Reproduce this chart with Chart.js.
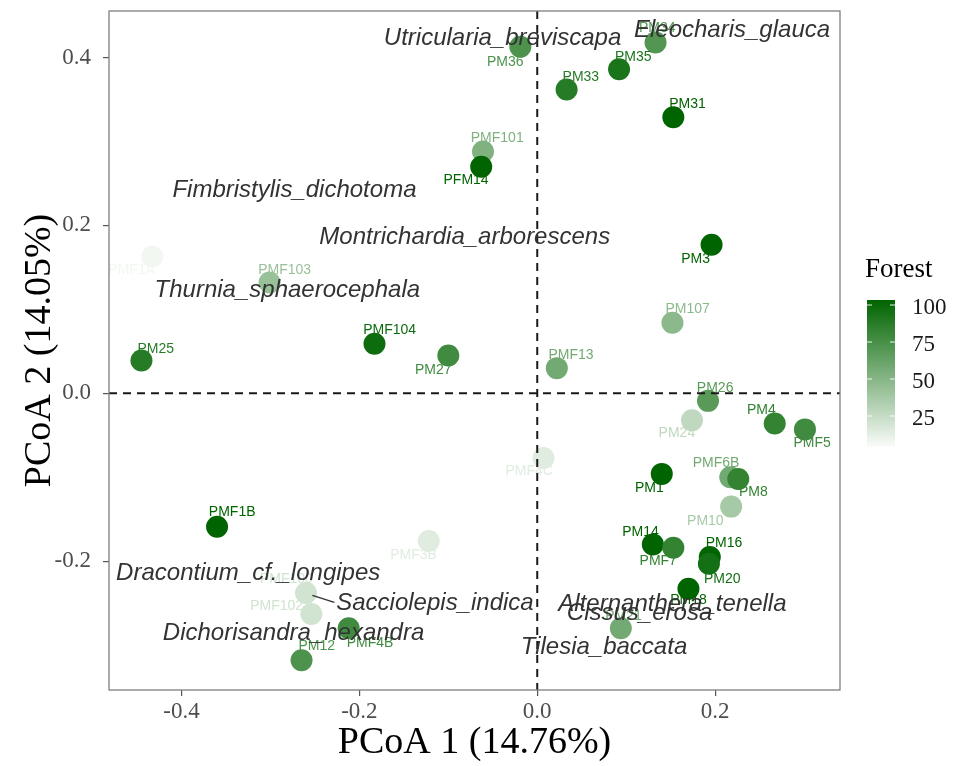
<!DOCTYPE html>
<html>
<head>
<meta charset="utf-8">
<script src="https://cdn.jsdelivr.net/npm/chart.js@4.4.1/dist/chart.umd.min.js"></script>
<style>
  body { margin: 0; background: #fff; }
  #wrap { width: 957px; height: 766px; }
</style>
</head>
<body>
<div id="wrap"><canvas id="myChart" width="957" height="766"></canvas></div>
<script>
// sample scores on the first two axes, plus forest cover for the colour
const sampleNames = ['PM36','PM34','PM35','PM33','PM31','PMF101','PFM14','PM3','PMF1A','PMF103',
  'PM107','PMF104','PM25','PM27','PMF13','PM26','PM24','PM4','PMF5','PMF4C',
  'PM1','PMF6B','PM8','PM10','PM14','PMF7','PM16','PM20','PM18','PM21',
  'PMF1B','PMF3B','PMF100','PMF102','PMF4B','PM12'];
const pc1 = [-0.019, 0.133, 0.092, 0.033, 0.153, -0.061, -0.063, 0.196, -0.433, -0.301,
  0.152, -0.183, -0.445, -0.100, 0.022, 0.192, 0.174, 0.267, 0.301, 0.007,
  0.140, 0.217, 0.226, 0.218, 0.130, 0.153, 0.194, 0.193, 0.170, 0.094,
  -0.360, -0.122, -0.260, -0.254, -0.212, -0.265];
const pc2 = [0.413, 0.418, 0.386, 0.362, 0.329, 0.288, 0.270, 0.177, 0.163, 0.132,
  0.084, 0.059, 0.039, 0.045, 0.030, -0.009, -0.032, -0.036, -0.043, -0.077,
  -0.096, -0.100, -0.102, -0.135, -0.180, -0.184, -0.195, -0.203, -0.233, -0.280,
  -0.159, -0.176, -0.238, -0.263, -0.280, -0.318];
const forest = [70, 68, 90, 85, 100, 50, 100, 100, 5, 40,
  45, 95, 85, 75, 55, 65, 25, 80, 75, 12,
  100, 55, 80, 35, 100, 80, 100, 92, 100, 55,
  100, 12, 18, 18, 75, 70];
// where the repelled labels ended up (axis units)
const labelX = [-0.036, 0.135, 0.108, 0.049, 0.169, -0.045, -0.080, 0.178, -0.456, -0.284,
  0.169, -0.166, -0.429, -0.117, 0.038, 0.200, 0.157, 0.252, 0.309, -0.009,
  0.126, 0.201, 0.243, 0.189, 0.116, 0.136, 0.210, 0.208, 0.170, 0.097,
  -0.343, -0.139, -0.282, -0.293, -0.188, -0.248];
const labelY = [0.395, 0.435, 0.400, 0.377, 0.345, 0.304, 0.254, 0.160, 0.147, 0.147,
  0.100, 0.075, 0.053, 0.028, 0.045, 0.006, -0.047, -0.020, -0.059, -0.093,
  -0.113, -0.083, -0.118, -0.152, -0.165, -0.200, -0.179, -0.221, -0.246, -0.265,
  -0.142, -0.193, -0.222, -0.254, -0.298, -0.301];

// plant species fitted onto the ordination
const speciesNames = ['Utricularia_breviscapa','Eleocharis_glauca','Fimbristylis_dichotoma',
  'Montrichardia_arborescens','Thurnia_sphaerocephala','Dracontium_cf._longipes',
  'Sacciolepis_indica','Dichorisandra_hexandra','Alternanthera_tenella','Cissus_erosa','Tilesia_baccata'];
const speciesX = [-0.039, 0.219, -0.273, -0.0815, -0.281, -0.325, -0.115, -0.274, 0.152, 0.115, 0.075];
const speciesY = [0.4235, 0.433, 0.242, 0.186, 0.123, -0.215, -0.250, -0.286, -0.2515, -0.262, -0.3025];
// the one repel segment (Sacciolepis)
const segX = [-0.2528, -0.2281];
const segY = [-0.2408, -0.2491];

const xTicks = [-0.4, -0.2, 0.0, 0.2];
const yTicks = [-0.2, 0.0, 0.2, 0.4];
const legendTicks = [25, 50, 75, 100];

// white -> darkgreen
function forestColour(v)
{
  var t = v / 100;
  var r = Math.round(255 + (0 - 255) * t);
  var g = Math.round(255 + (100 - 255) * t);
  var b = Math.round(255 + (0 - 255) * t);
  return 'rgb(' + r + ',' + g + ',' + b + ')';
}

const pointColours = forest.map(forestColour);

const overlay = {
  id: 'overlay',
  afterDatasetsDraw(chart) {
    const ctx = chart.ctx;
    const xs = chart.scales.x, ys = chart.scales.y;
    const area = chart.chartArea;

    // zero lines
    ctx.save();
    ctx.strokeStyle = '#1a1a1a';
    ctx.lineWidth = 2;
    ctx.setLineDash([8, 6]);
    ctx.beginPath();
    ctx.moveTo(xs.getPixelForValue(0), area.top);
    ctx.lineTo(xs.getPixelForValue(0), area.bottom);
    ctx.moveTo(area.left, ys.getPixelForValue(0));
    ctx.lineTo(area.right, ys.getPixelForValue(0));
    ctx.stroke();
    ctx.restore();

    // sample labels
    ctx.save();
    ctx.font = '14px "Liberation Sans", Arial, sans-serif';
    ctx.textAlign = 'center';
    ctx.textBaseline = 'middle';
    for (var i = 0; i < sampleNames.length; i++) {
      ctx.fillStyle = pointColours[i];
      ctx.fillText(sampleNames[i], xs.getPixelForValue(labelX[i]), ys.getPixelForValue(labelY[i]));
    }
    ctx.restore();

    // species
    ctx.save();
    ctx.strokeStyle = '#333333';
    ctx.lineWidth = 1.4;
    ctx.beginPath();
    ctx.moveTo(xs.getPixelForValue(segX[0]), ys.getPixelForValue(segY[0]));
    ctx.lineTo(xs.getPixelForValue(segX[1]), ys.getPixelForValue(segY[1]));
    ctx.stroke();
    ctx.font = 'italic 24px "Liberation Sans", Arial, sans-serif';
    ctx.fillStyle = '#333333';
    ctx.textAlign = 'center';
    ctx.textBaseline = 'middle';
    for (var j = 0; j < speciesNames.length; j++) {
      ctx.fillText(speciesNames[j], xs.getPixelForValue(speciesX[j]), ys.getPixelForValue(speciesY[j]));
    }
    ctx.restore();

    // panel border
    ctx.save();
    ctx.strokeStyle = '#7f7f7f';
    ctx.lineWidth = 1.3;
    ctx.strokeRect(area.left, area.top, area.right - area.left, area.bottom - area.top);
    ctx.restore();

    // colourbar legend
    ctx.save();
    ctx.fillStyle = '#000';
    ctx.font = '27px "Liberation Serif", "Times New Roman", serif';
    ctx.textBaseline = 'middle';
    ctx.fillText('Forest', 865, 270);
    const barL = 867, barW = 28, barTop = 300, barBot = 447;
    const valToY = v => 305 + (100 - v) * 1.48;
    const grad = ctx.createLinearGradient(0, barTop, 0, barBot);
    grad.addColorStop(0, forestColour(100));
    grad.addColorStop(1, forestColour(2));
    ctx.fillStyle = grad;
    ctx.fillRect(barL, barTop, barW, barBot - barTop);
    ctx.strokeStyle = 'rgba(255,255,255,0.9)';
    ctx.lineWidth = 1;
    ctx.font = '23px "Liberation Serif", "Times New Roman", serif';
    for (var k = 0; k < legendTicks.length; k++) {
      var ty = valToY(legendTicks[k]);
      ctx.beginPath();
      ctx.moveTo(barL, ty); ctx.lineTo(barL + 5, ty);
      ctx.moveTo(barL + barW - 5, ty); ctx.lineTo(barL + barW, ty);
      ctx.stroke();
      ctx.fillStyle = '#1a1a1a';
      ctx.fillText(String(legendTicks[k]), 912, ty + 3);
    }
    ctx.restore();
  }
};

const data = {
  datasets: [{
    label: 'samples',
    data: pc1.map((v, i) => ({ x: v, y: pc2[i] })),
    backgroundColor: pointColours,
    borderWidth: 0,
    pointRadius: 11,
    pointHoverRadius: 11
  }]
};

const config = {
  type: 'scatter',
  data: data,
  options: {
    responsive: false,
    animation: false,
    layout: { padding: { top: 8, right: 117, left: 0, bottom: 0 } },
    plugins: { legend: { display: false }, tooltip: { enabled: false } },
    scales: {
      x: {
        type: 'linear',
        min: -0.4815,
        max: 0.3404,
        afterBuildTicks: s => { s.ticks = xTicks.map(v => ({ value: v })); },
        afterFit: s => { s.height = 76; s.paddingLeft = 0; s.paddingRight = 0; },
        grid: { drawOnChartArea: false, color: '#555', tickLength: 6, lineWidth: 1.2 },
        border: { display: false },
        ticks: {
          font: { family: '"Liberation Serif", serif', size: 23 },
          color: '#4d4d4d', padding: 2, maxRotation: 0,
          callback: v => v.toFixed(1)
        },
        title: {
          display: true, text: 'PCoA 1 (14.76%)', color: '#000',
          font: { family: '"Liberation Serif", serif', size: 38 },
          padding: { top: 0, bottom: 0 }
        }
      },
      y: {
        type: 'linear',
        min: -0.3535,
        max: 0.4555,
        afterBuildTicks: s => { s.ticks = yTicks.map(v => ({ value: v })); },
        afterFit: s => { s.width = 109; s.paddingTop = 0; s.paddingBottom = 0; },
        grid: { drawOnChartArea: false, color: '#555', tickLength: 6, lineWidth: 1.2 },
        border: { display: false },
        ticks: {
          font: { family: '"Liberation Serif", serif', size: 23 },
          color: '#4d4d4d', padding: 12,
          callback: v => v.toFixed(1)
        },
        title: {
          display: true, text: 'PCoA 2 (14.05%)', color: '#000',
          font: { family: '"Liberation Serif", serif', size: 38 },
          padding: { top: 17, bottom: 0 }
        }
      }
    }
  },
  plugins: [overlay]
};

const myChart = new Chart(document.getElementById('myChart'), config);
</script>
</body>
</html>
